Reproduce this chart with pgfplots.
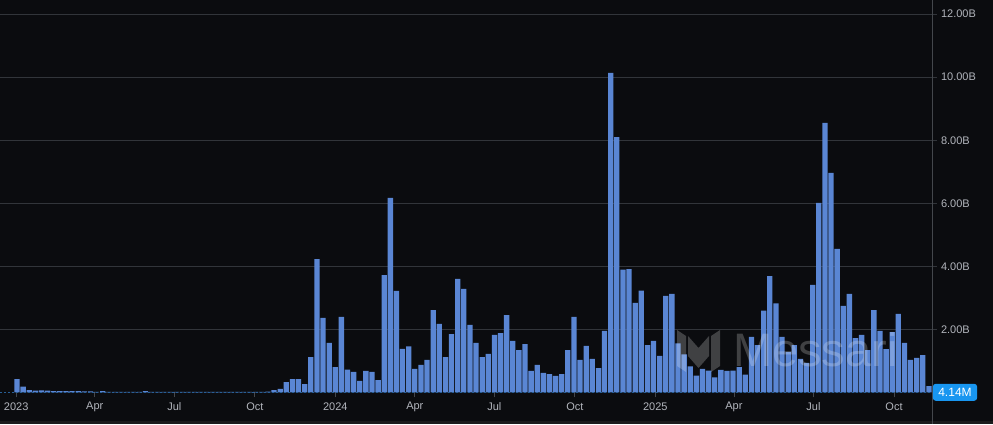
\documentclass[border=0pt]{standalone}
\usepackage{pgfplots}
\pgfplotsset{compat=1.18}
\usepackage{pgfplotstable}
\usepackage{fontspec}
\setmainfont{Liberation Sans}
\definecolor{bgc}{RGB}{11,12,15}
\definecolor{barc}{RGB}{90,134,212}
\definecolor{gridc}{RGB}{50,53,58}
\definecolor{axc}{RGB}{68,71,76}
\definecolor{labc}{RGB}{178,181,188}
\definecolor{tagc}{RGB}{24,150,240}
\definecolor{basec}{RGB}{40,95,150}

\pgfplotstableread{
i v
0 0.42
1 0.18
2 0.07
3 0.05
4 0.06
5 0.05
6 0.04
7 0.04
8 0.04
9 0.04
10 0.04
11 0.03
12 0.03
13 0.01
14 0.04
15 0.01
16 0.01
17 0.01
18 0.01
19 0.01
20 0.01
21 0.04
22 0.01
23 0.01
24 0.01
25 0.01
26 0.01
27 0.01
28 0.01
29 0.01
30 0.01
31 0.01
32 0.01
33 0.01
34 0.01
35 0.01
36 0.01
37 0.01
38 0.01
39 0.01
40 0.01
41 0.02
42 0.07
43 0.11
44 0.32
45 0.42
46 0.42
47 0.26
48 1.12
49 4.23
50 2.36
51 1.57
52 0.80
53 2.39
54 0.72
55 0.65
56 0.36
57 0.68
58 0.65
59 0.39
60 3.72
61 6.17
62 3.22
63 1.38
64 1.46
65 0.74
66 0.87
67 1.03
68 2.61
69 2.17
70 1.12
71 1.85
72 3.60
73 3.28
74 2.14
75 1.57
76 1.12
77 1.22
78 1.82
79 1.88
80 2.45
81 1.63
82 1.34
83 1.53
84 0.68
85 0.87
86 0.62
87 0.58
88 0.52
89 0.58
90 1.34
91 2.39
92 1.03
93 1.47
94 1.06
95 0.77
96 1.95
97 10.14
98 8.10
99 3.89
100 3.91
101 2.84
102 3.23
103 1.50
104 1.63
105 1.16
106 3.06
107 3.12
108 1.55
109 1.20
110 0.82
111 0.53
112 0.74
113 0.69
114 0.47
115 0.71
116 0.68
117 0.69
118 0.80
119 0.56
120 1.76
121 1.50
122 2.59
123 3.69
124 2.82
125 1.76
126 1.28
127 1.50
128 1.06
129 0.93
130 3.41
131 6.01
132 8.55
133 6.96
134 4.55
135 2.74
136 3.12
137 1.72
138 1.82
139 1.34
140 2.61
141 1.95
142 1.37
143 1.91
144 2.49
145 1.57
146 1.03
147 1.09
148 1.18
149 0.20
}\volume

\begin{document}
\begin{tikzpicture}
\fill[bgc] (0pt,0pt) rectangle (993pt,424pt);
\useasboundingbox (0pt,0pt) rectangle (993pt,424pt);
\fill[black!85!white, opacity=0.6] (0pt,0pt) rectangle (993pt,3pt);
\begin{axis}[
  at={(0pt,31.7pt)}, anchor=south west,
  scale only axis, width=932pt, height=392.3pt,
  xmin=-2.78, xmax=149.5, ymin=0, ymax=12.45,
  axis line style={draw=none},
  clip=false,
  ybar, bar width=5.3pt,
  ymajorgrids, grid style={gridc, line width=0.8pt},
  ytick={2,4,6,8,10,12},
  yticklabels={2.00B,4.00B,6.00B,8.00B,10.00B,12.00B},
  yticklabel pos=right,
  xtick={-0.14,12.71,25.71,38.86,52.0,65.0,78.0,91.14,104.29,117.14,130.14,143.29},
  xticklabels={2023,Apr,Jul,Oct,2024,Apr,Jul,Oct,2025,Apr,Jul,Oct},
  tick align=outside,
  major tick length=5pt,
  tick style={gridc, line width=0.8pt},
  xtick style={axc},
  ticklabel style={font=\fontsize{11}{13}\selectfont, text=labc},
  xticklabel style={yshift=-1.5pt},
  yticklabel style={xshift=0.5pt},
]
\addplot[fill=barc, draw=none] table[x=i, y=v] {\volume};
\draw[basec, dash pattern=on 2pt off 2pt, line width=0.8pt] (axis cs:-2.78,0) -- (axis cs:149.5,0);
\draw[axc, line width=0.8pt] (axis cs:149.5,-1.0) -- (axis cs:149.5,12.45);
\node[fill=tagc, rounded corners=3pt, text=white, anchor=west, inner xsep=5.5pt,
      minimum height=17pt, font=\fontsize{12}{14}\selectfont] at (axis cs:149.6,0) {4.14M};
\end{axis}
% watermark
\begin{scope}[opacity=0.22]
\fill[white] (677pt,94pt) -- (686pt,88pt) -- (686pt,52pt) -- (677pt,58pt) -- cycle;
\fill[white] (720pt,94pt) -- (711pt,88pt) -- (711pt,52pt) -- (720pt,58pt) -- cycle;
\fill[white] (688pt,88pt) -- (698.5pt,76pt) -- (709pt,88pt) -- (709pt,68pt) -- (698.5pt,56pt) -- (688pt,68pt) -- cycle;
\node[text=white, font=\fontsize{47}{50}\selectfont, anchor=base west, inner sep=0pt] at (733pt,58pt) {Messari};
\end{scope}
\end{tikzpicture}
\end{document}
